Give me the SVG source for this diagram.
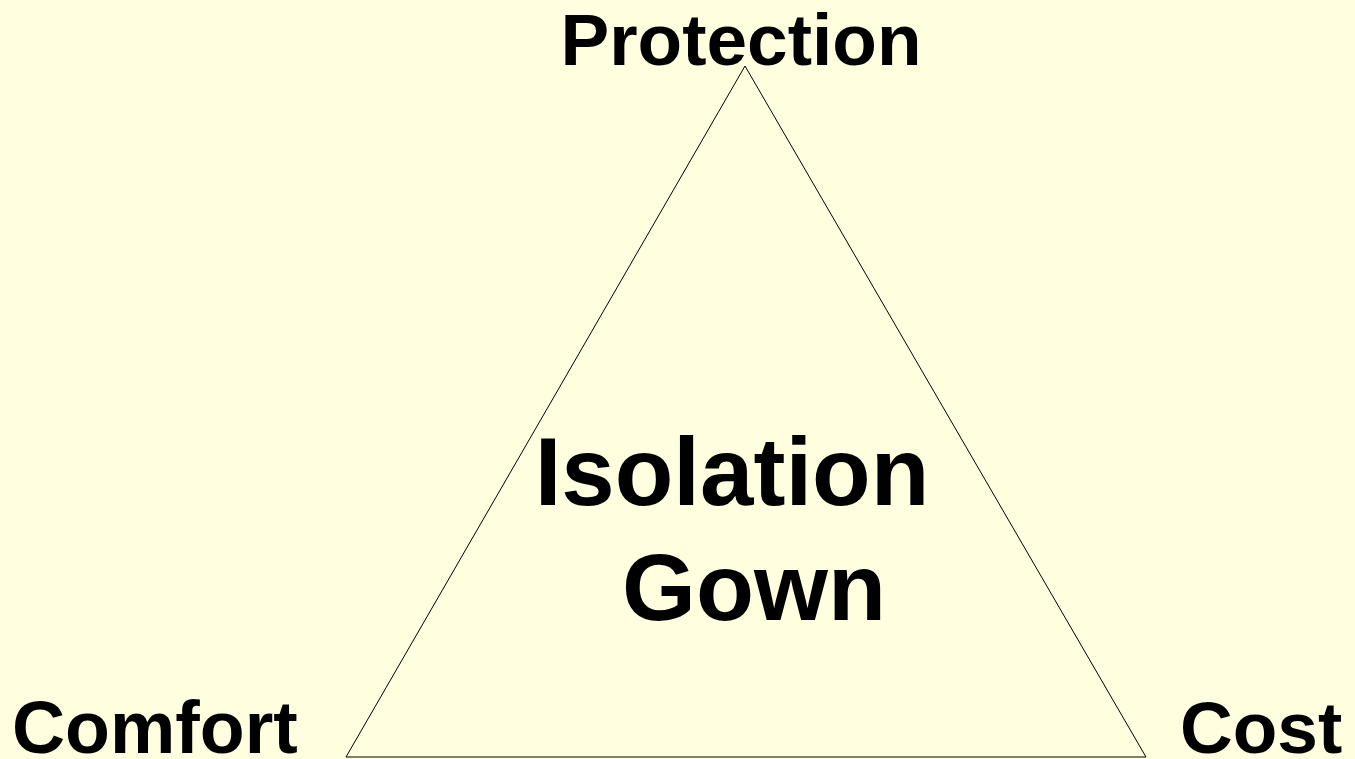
<svg xmlns="http://www.w3.org/2000/svg" width="1355" height="759" viewBox="0 0 1355 759">
<style>
.lbl{font-family:"Liberation Sans",Arial,sans-serif;font-weight:bold;fill:#000}
</style>
<rect width="1355" height="759" fill="#FFFFE0"/>
<g id="triangle">
<polygon points="745,66 346,757 1146,757" fill="none" stroke="#000" stroke-width="1"/>
</g>
<g id="connectors"></g>
<g id="protection"><text class="lbl" x="741" y="65" font-size="73" text-anchor="middle">Protection</text></g>
<g id="comfort"><text class="lbl" x="12" y="753" font-size="73.5">Comfort</text></g>
<g id="cost"><text class="lbl" x="1180" y="753" font-size="73">Cost</text></g>
<g id="center">
<text class="lbl" x="732" y="505" font-size="96" text-anchor="middle">Isolation</text>
<text class="lbl" x="754" y="620" font-size="95" text-anchor="middle">Gown</text>
</g>
</svg>
